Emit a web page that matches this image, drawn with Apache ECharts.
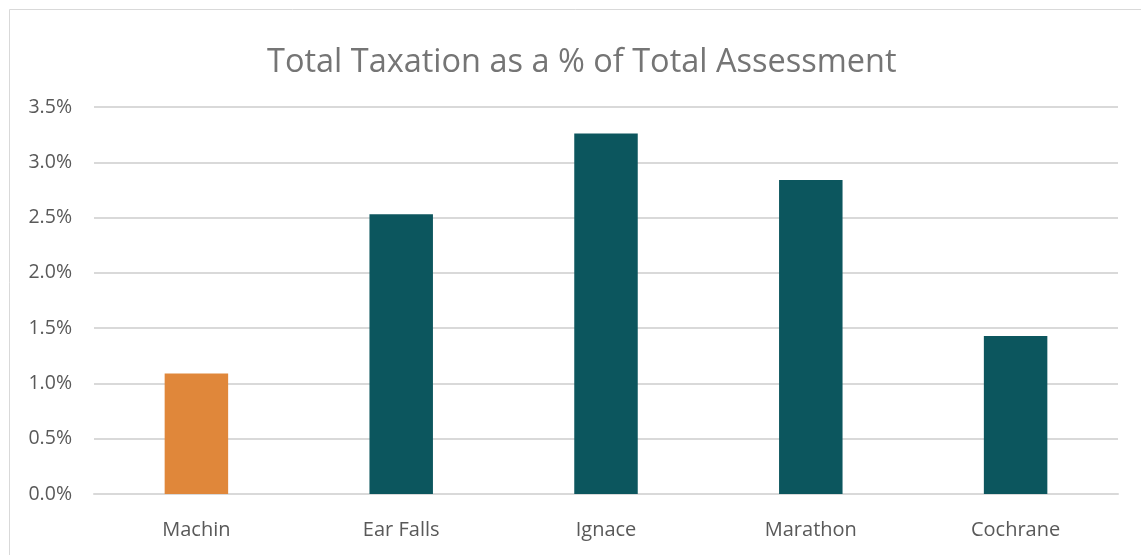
<!DOCTYPE html>
<html>
<head>
<meta charset="utf-8">
<script src="https://cdn.jsdelivr.net/npm/echarts@6/dist/echarts.min.js"></script>
<style>
  html, body { margin: 0; padding: 0; background: #ffffff; }
  #chart { width: 1141px; height: 555px; }
</style>
</head>
<body>
<div id="chart"></div>
<script>
// Municipalities compared
const categories = ['Machin', 'Ear Falls', 'Ignace', 'Marathon', 'Cochrane'];
// Total taxation as a percentage of total assessment
const taxationPct = [1.09, 2.53, 3.26, 2.84, 1.43];
// Bar colours: Machin highlighted, the others in teal
const barColors = ['#E0873A', '#0C565E', '#0C565E', '#0C565E', '#0C565E'];

const chart = echarts.init(document.getElementById('chart'), null, { renderer: 'canvas' });

const fontFamily = '"Open Sans", "Noto Sans", sans-serif';

chart.setOption({
  backgroundColor: '#ffffff',
  animation: false,
  graphic: [{
    type: 'rect',
    left: 7, top: 7,
    shape: { width: 1200, height: 600 },
    style: { fill: 'none', stroke: '#d9d9d9', lineWidth: 1 },
    silent: true
  }],
  title: {
    text: 'Total Taxation as a % of Total Assessment',
    left: 262,
    top: 41,
    textStyle: {
      fontFamily: fontFamily,
      fontSize: 32.5,
      fontWeight: 'normal',
      color: '#757575'
    }
  },
  grid: { left: 94, right: 23, top: 107, bottom: 61, containLabel: false },
  xAxis: {
    type: 'category',
    data: categories,
    axisLine: { show: true, lineStyle: { color: '#d9d9d9', width: 2 } },
    axisTick: { show: false },
    axisLabel: {
      margin: 26,
      fontFamily: fontFamily,
      fontSize: 20,
      color: '#595959'
    }
  },
  yAxis: {
    type: 'value',
    min: 0,
    max: 3.5,
    interval: 0.5,
    axisLine: { show: false },
    axisTick: { show: false },
    splitLine: { lineStyle: { color: '#d9d9d9', width: 2 } },
    axisLabel: {
      margin: 22,
      fontFamily: fontFamily,
      fontSize: 19.5,
      color: '#595959',
      formatter: v => v.toFixed(1) + '%'
    }
  },
  series: [{
    type: 'bar',
    barWidth: '31%',
    data: taxationPct.map((v, i) => ({ value: v, itemStyle: { color: barColors[i] } }))
  }]
});
</script>
</body>
</html>
